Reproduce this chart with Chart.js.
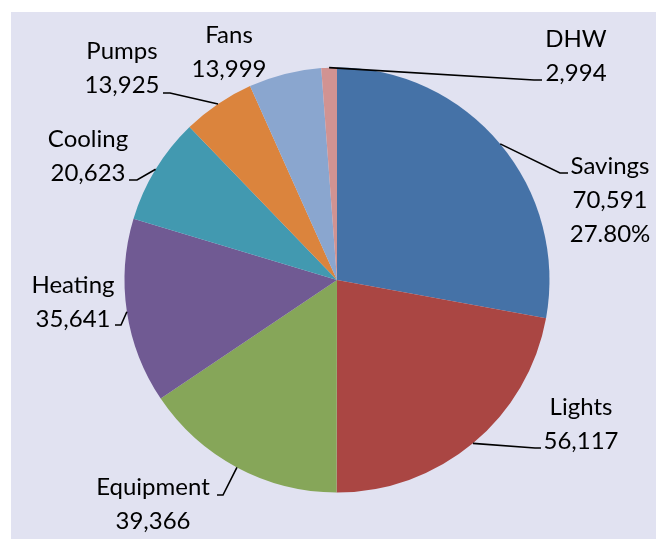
<!DOCTYPE html>
<html>
<head>
<meta charset="utf-8">
<script src="https://cdn.jsdelivr.net/npm/chart.js@4"></script>
<style>
  body { margin: 0; background: #ffffff; }
  #wrap { width: 656px; height: 539px; }
</style>
</head>
<body>
<div id="wrap"><canvas id="myChart" width="656" height="539"></canvas></div>
<script>
// data
const categories = ["Savings", "Lights", "Equipment", "Heating", "Cooling", "Pumps", "Fans", "DHW"];
const values = [70591, 56117, 39366, 35641, 20623, 13925, 13999, 2994];
const savingsShare = "27.80%"; // printed share under the savings value

const sliceColors = ["#4572a7", "#aa4643", "#86a659", "#705a93", "#4299b0", "#db843d", "#8aa6cf", "#d19392"];

// label placement: text centre x, first baseline y, elbow and end of the leader line
const labelLayout = [
  { x: 610, y: 174, elbow: [560, 173], end: [568, 173] },
  { x: 581, y: 415, elbow: [535, 448], end: [541, 448] },
  { x: 153, y: 495, elbow: [223, 495], end: [217, 495] },
  { x: 73, y: 293, elbow: [121, 325], end: [115, 325] },
  { x: 88, y: 147, elbow: [137, 180], end: [129, 180] },
  { x: 122, y: 59, elbow: [170, 93], end: [163, 93] },
  { x: 229, y: 43, elbow: null, end: null },
  { x: 576, y: 47, elbow: [534, 80], end: [542, 80] }
];

const backdrop = {
  id: "backdrop",
  beforeDraw(chart) {
    const ctx = chart.ctx;
    ctx.save();
    ctx.fillStyle = "#ffffff";
    ctx.fillRect(0, 0, chart.width, chart.height);
    ctx.fillStyle = "#e1e2f1";
    ctx.fillRect(11, 12, chart.width - 11, chart.height - 12);
    ctx.restore();
  }
};

const sliceLabels = {
  id: "sliceLabels",
  afterDraw(chart) {
    const ctx = chart.ctx;
    const arcs = chart.getDatasetMeta(0).data;
    ctx.save();
    ctx.font = "24px Lato";
    ctx.fillStyle = "#000000";
    ctx.textAlign = "center";
    ctx.textBaseline = "alphabetic";
    arcs.forEach((arc, i) => {
      const lay = labelLayout[i];
      const p = arc.getProps(["x", "y", "startAngle", "endAngle", "outerRadius"], true);
      const mid = (p.startAngle + p.endAngle) / 2;
      if (lay.elbow) {
        ctx.beginPath();
        ctx.strokeStyle = "#000000";
        ctx.lineWidth = 1.6;
        ctx.moveTo(p.x + Math.cos(mid) * p.outerRadius, p.y + Math.sin(mid) * p.outerRadius);
        ctx.lineTo(lay.elbow[0], lay.elbow[1]);
        ctx.lineTo(lay.end[0], lay.end[1]);
        ctx.stroke();
      }
      const lines = [categories[i], values[i].toLocaleString("en-US")];
      if (i === 0) lines.push(savingsShare);
      lines.forEach((t, k) => ctx.fillText(t, lay.x, lay.y + k * 34));
    });
    ctx.restore();
  }
};

new Chart("myChart", {
  type: "pie",
  data: {
    labels: categories,
    datasets: [
      {
        data: values,
        backgroundColor: sliceColors,
        borderWidth: 0
      }
    ]
  },
  options: {
    responsive: false,
    animation: false,
    layout: { padding: { left: 124.5, right: 106.5, top: 67.5, bottom: 46.5 } },
    plugins: {
      legend: { display: false },
      tooltip: { enabled: false }
    }
  },
  plugins: [backdrop, sliceLabels]
});
</script>
</body>
</html>
